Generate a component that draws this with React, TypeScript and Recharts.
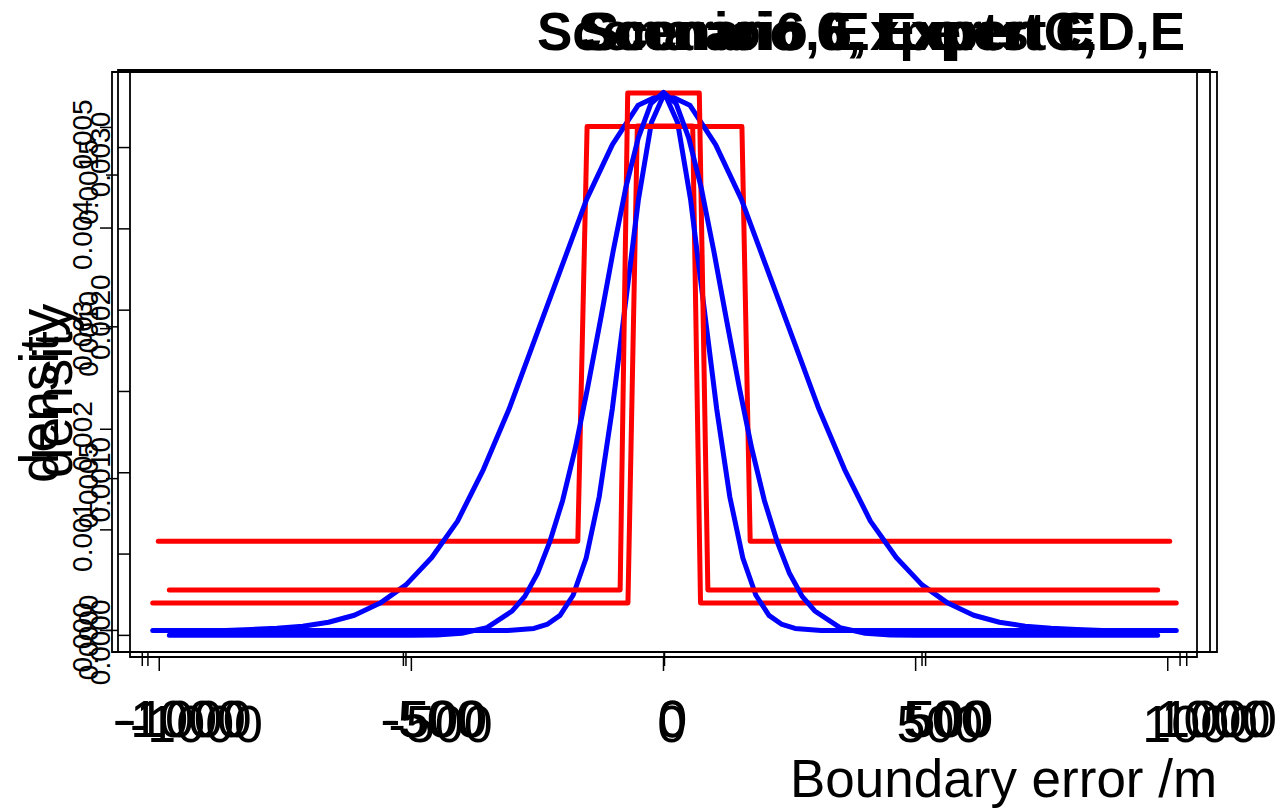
import React from "react";
import { LineChart, Line, XAxis, YAxis, ReferenceArea } from "recharts";

const W = 1278;
const H = 808;
const FONT = "'Liberation Sans', Arial, Helvetica, sans-serif";
const RED = "#FF0000";
const BLUE = "#0000FF";
const YAXIS_W = 60;
const XAXIS_H = 30;

const xTicks = [-1000, -500, 0, 500, 1000];
const xDomain: [number, number] = [-1058, 1058];

const titles = ["Scenario 6, Experts C,D,E", "Scenario 6, Expert C", "Scenario 6, Expert E"];

// panel A (outer box)
const ticksA = [0, 0.001, 0.002, 0.003, 0.004, 0.005];
const labelsA = ticksA;
const redA = [
  { x: -980, y: 0.000273 },
  { x: -70, y: 0.000273 },
  { x: -52, y: 0.005015 },
  { x: 54, y: 0.005015 },
  { x: 69, y: 0.000273 },
  { x: 980, y: 0.000273 },
];
const blueXA = [-980, -300, -250, -225, -200, -175, -150, -125, -100, -75, -50, -25, 0, 25, 50, 75, 100, 125, 150, 175, 200, 225, 250, 300, 980];
const blueYA = [0, 0, 0.00002, 0.00006, 0.00015, 0.00035, 0.00072, 0.00133, 0.0022, 0.00324, 0.00428, 0.00505, 0.00534, 0.00505, 0.00428, 0.00324, 0.0022, 0.00133, 0.00072, 0.00035, 0.00015, 0.00006, 0.00002, 0, 0];

// panel B (wide)
const ticksB = [0, 0.0005, 0.001, 0.0015];
const labelsB = ticksB;
const redB = [
  { x: -980, y: 0.000294 },
  { x: -167, y: 0.000294 },
  { x: -149, y: 0.00166 },
  { x: 151, y: 0.00166 },
  { x: 167, y: 0.000294 },
  { x: 980, y: 0.000294 },
];
const blueXB = [-980, -850, -800, -750, -700, -650, -600, -550, -500, -450, -400, -350, -300, -250, -200, -150, -100, -50, 0, 50, 100, 150, 200, 250, 300, 350, 400, 450, 500, 550, 600, 650, 700, 750, 800, 850, 980];
const blueYB = [0, 0, 0.000003, 0.000007, 0.000014, 0.000027, 0.00005, 0.00009, 0.00015, 0.00024, 0.00036, 0.00053, 0.00073, 0.00096, 0.00119, 0.00142, 0.0016, 0.00173, 0.00177, 0.00173, 0.0016, 0.00142, 0.00119, 0.00096, 0.00073, 0.00053, 0.00036, 0.00024, 0.00015, 0.00009, 0.00005, 0.000027, 0.000014, 0.000007, 0.000003, 0, 0];

// panel C (inner box) - R drops every other label here
const ticksC = [0, 0.0005, 0.001, 0.0015, 0.002, 0.0025, 0.003];
const labelsC = [0, 0.001, 0.002, 0.003];
const redC = [
  { x: -980, y: 0.000279 },
  { x: -86, y: 0.000279 },
  { x: -71, y: 0.003335 },
  { x: 71, y: 0.003335 },
  { x: 88, y: 0.000279 },
  { x: 980, y: 0.000279 },
];
const blueXC = [-980, -500, -450, -400, -350, -300, -275, -250, -225, -200, -175, -150, -125, -100, -75, -50, -25, 0, 25, 50, 75, 100, 125, 150, 175, 200, 225, 250, 275, 300, 350, 400, 450, 500, 980];
const blueYC = [0, 0, 0.000003, 0.000013, 0.000048, 0.00015, 0.00024, 0.00038, 0.00058, 0.00083, 0.00115, 0.00153, 0.00194, 0.00236, 0.00275, 0.00306, 0.00327, 0.00334, 0.00327, 0.00306, 0.00275, 0.00236, 0.00194, 0.00153, 0.00115, 0.00083, 0.00058, 0.00038, 0.00024, 0.00015, 0.000048, 0.000013, 0.000003, 0, 0];

const zip = (xs: number[], ys: number[]) => xs.map((x, i) => ({ x, y: ys[i] }));

const panels = [
  { box: { left: 112, right: 1217, top: 72, bottom: 652 }, yDomain: [-0.000214, 0.005551], ticks: ticksA, labels: labelsA, digits: 3, red: redA, blue: zip(blueXA, blueYA) },
  { box: { left: 118, right: 1210, top: 70, bottom: 652 }, yDomain: [-0.0000711, 0.001846], ticks: ticksB, labels: labelsB, digits: 4, red: redB, blue: zip(blueXB, blueYB) },
  { box: { left: 130, right: 1197, top: 70, bottom: 657 }, yDomain: [-0.000133, 0.003477], ticks: ticksC, labels: labelsC, digits: 4, red: redC, blue: zip(blueXC, blueYC) },
];

// rough Arial widths, used to mimic R's off-centre labels
const textWidth = (s: string, size: number) =>
  s.split("").reduce((w, c) => w + (c === "-" ? 0.333 : c === "." ? 0.278 : 0.556), 0) * size;

const XTick = (props: any) => {
  const { x, y, payload } = props;
  const s = String(payload.value);
  const w = textWidth(s, 52);
  return (
    <text x={x - 0.22 * w} y={y + 69} fontSize={52} fontFamily={FONT} fill="#000" textAnchor="start">
      {s}
    </text>
  );
};

const makeYTick = (digits: number, labels: number[]) => (props: any) => {
  const { x, y, payload } = props;
  const v = Number(payload.value);
  if (!labels.some((l) => Math.abs(l - v) < 1e-9)) return <g />;
  const s = v.toFixed(digits);
  const w = textWidth(s, 28);
  const bx = x - 6;
  const by = y + w / 2 + 7;
  return (
    <text x={bx} y={by} transform={`rotate(-90 ${bx} ${by})`} fontSize={28} fontFamily={FONT} fill="#000" textAnchor="start">
      {s}
    </text>
  );
};

function Panel({ p }: { p: (typeof panels)[number] }) {
  const { box } = p;
  return (
    <div style={{ position: "absolute", left: 0, top: 0 }}>
      <LineChart
        width={W}
        height={H}
        margin={{ top: box.top, right: W - box.right, bottom: H - box.bottom - XAXIS_H, left: box.left - YAXIS_W }}
      >
        <XAxis
          type="number"
          dataKey="x"
          domain={xDomain}
          ticks={xTicks}
          interval={0}
          allowDataOverflow
          axisLine={false}
          tickSize={14}
          tickMargin={2}
          tickLine={{ stroke: "#000", strokeWidth: 1.5 }}
          tick={<XTick />}
          height={XAXIS_H}
        />
        <YAxis
          type="number"
          domain={p.yDomain}
          ticks={p.ticks}
          interval={0}
          allowDataOverflow
          axisLine={false}
          tickSize={12}
          tickMargin={2}
          tickLine={{ stroke: "#000", strokeWidth: 1.5 }}
          tick={makeYTick(p.digits, p.labels)}
          width={YAXIS_W}
        />
        <ReferenceArea
          x1={xDomain[0]}
          x2={xDomain[1]}
          y1={p.yDomain[0]}
          y2={p.yDomain[1]}
          fill="none"
          fillOpacity={0}
          stroke="#000"
          strokeWidth={1.8}
          ifOverflow="visible"
        />
        <Line data={p.red} dataKey="y" type="linear" stroke={RED} strokeWidth={5} strokeLinecap="round" strokeLinejoin="round" dot={false} isAnimationActive={false} />
        <Line data={p.blue} dataKey="y" type="linear" stroke={BLUE} strokeWidth={5} strokeLinecap="round" strokeLinejoin="round" dot={false} isAnimationActive={false} />
      </LineChart>
    </div>
  );
}

export default function App() {
  return (
    <div style={{ position: "absolute", left: 0, top: 0, width: W, height: H, background: "#fff", overflow: "hidden" }}>
      {panels.map((p, i) => (
        <Panel key={i} p={p} />
      ))}
      <svg width={W} height={H} style={{ position: "absolute", left: 0, top: 0, pointerEvents: "none" }}>
        <g fontFamily={FONT} fill="#000">
          <text x={537} y={50} fontSize={53} fontWeight="bold">{titles[0]}</text>
          <text x={578} y={50} fontSize={53} fontWeight="bold">{titles[1]}</text>
          <text x={584} y={50} fontSize={53} fontWeight="bold">{titles[2]}</text>
          <text x={58} y={483} fontSize={55} transform="rotate(-90 58 483)">density</text>
          <text x={72} y={478} fontSize={55} transform="rotate(-90 72 478)">density</text>
          <text x={790} y={797} fontSize={53}>Boundary error /m</text>
        </g>
      </svg>
    </div>
  );
}
